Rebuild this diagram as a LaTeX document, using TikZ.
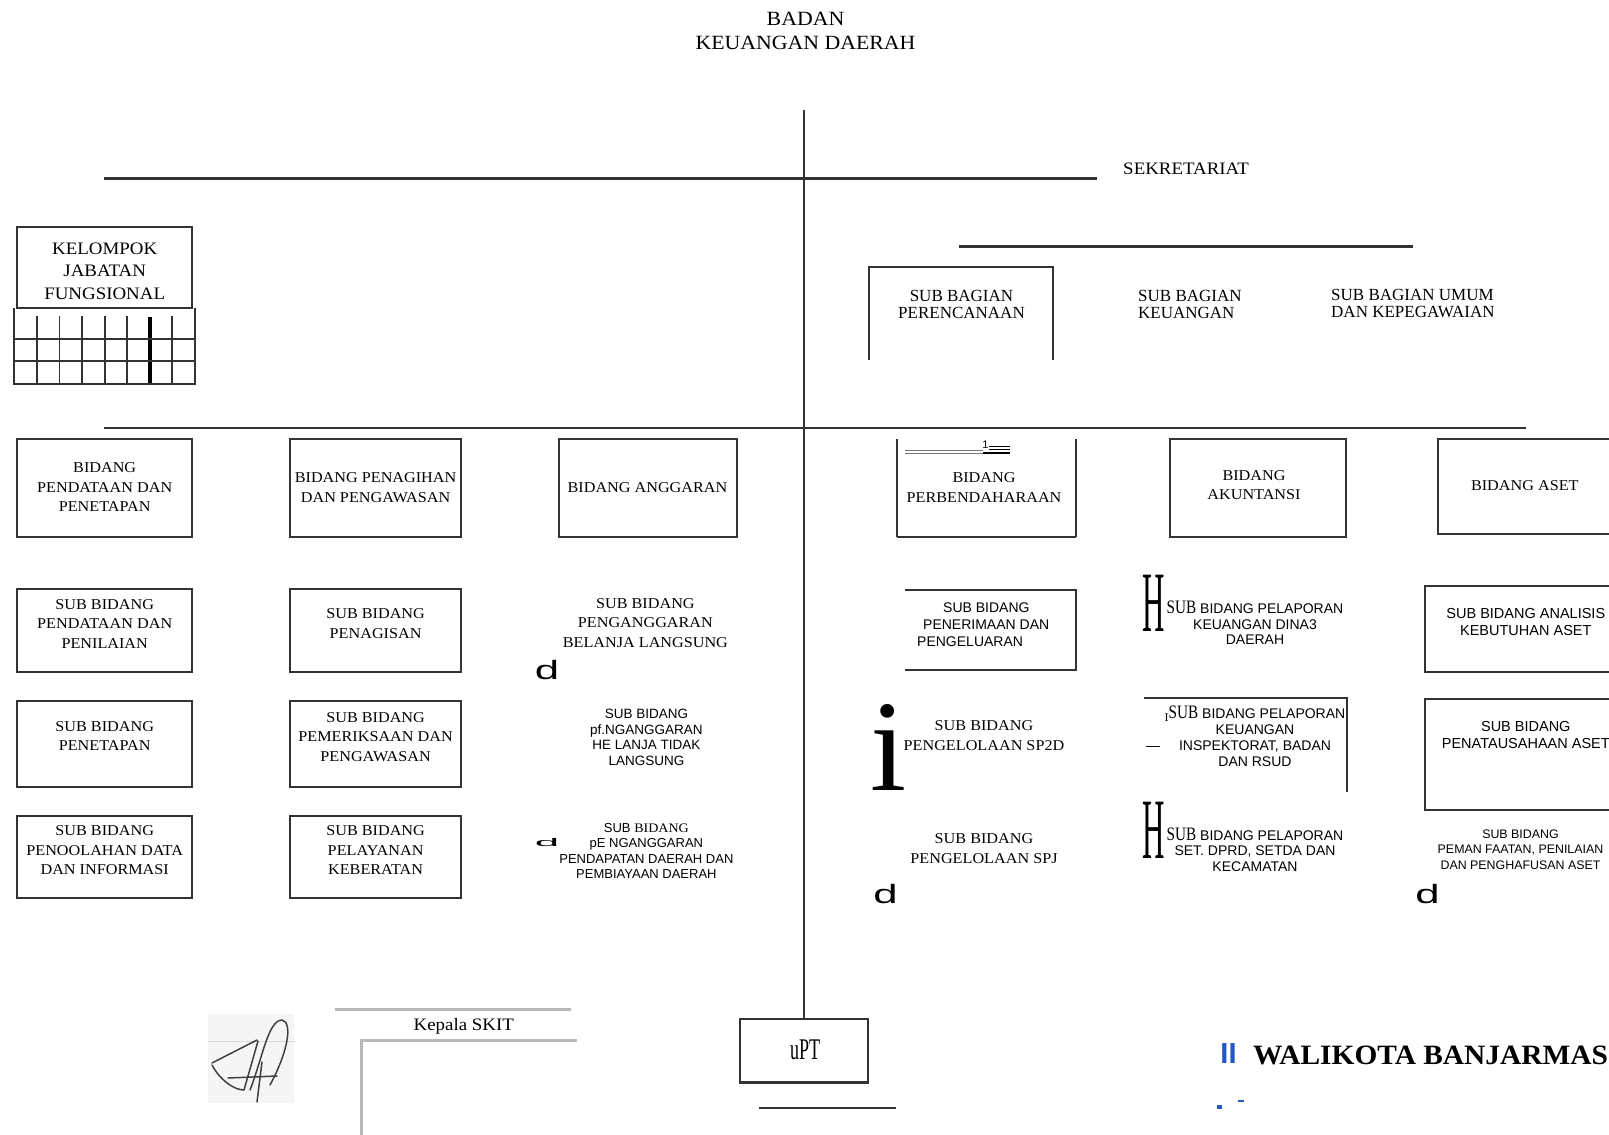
\documentclass[tikz,border=0pt]{standalone}
\usepackage{fontspec}
\usepackage{graphicx}
\setmainfont{Liberation Serif}
\newfontfamily\wideserif[FakeStretch=1.08]{Liberation Serif}
\newfontfamily\condserif[FakeStretch=0.8]{Liberation Serif}
\newfontfamily\arialfont{Liberation Sans}
\newfontfamily\walfont[FakeStretch=1.05]{Liberation Serif}
\newcommand\fBox{\wideserif\fontsize{15}{19.5}\selectfont}
\newcommand\fSans{\arialfont\fontsize{14}{15.8}\selectfont}
\newcommand\fSubw{\condserif\fontsize{19}{19}\selectfont}
\newcommand\fBag{\rmfamily\fontsize{17}{17.5}\selectfont}
\definecolor{lnc}{gray}{0.2}
\definecolor{blu}{RGB}{34,87,196}
\tikzset{
  ln/.style={draw=lnc, line width=2.1pt},
  box/.style={draw=lnc, line width=2.1pt, inner sep=0pt},
  openbox/.style={inner sep=0pt},
  txt/.style={align=center, inner sep=0pt, font=\fBox},
  stxt/.style={align=center, inner sep=0pt, font=\fSans},
  gtxt/.style={align=center, inner sep=0pt, font=\fBag},
  glyph/.style={inner sep=0pt},
  grayln/.style={draw=black!28, line width=2.6pt},
  gridln/.style={draw=lnc, line width=1.9pt},
}
\begin{document}
\begin{tikzpicture}[x=1pt,y=-1pt]
\fill[white] (0,0) rectangle (1609,1135);
\useasboundingbox (0,0) rectangle (1609,1135);

% ---------- title ----------
\node[txt, font=\wideserif\fontsize{20.2}{24.5}\selectfont] (title) at (805.5,30.8) {BADAN\\KEUANGAN DAERAH};

% ---------- UPT and trunk ----------
\node[box, minimum width=128.2pt, minimum height=63.5pt] (upt) at (803.9,1050.75) {};
\node[glyph] (uptt) at (805,1050) {\scalebox{0.6}[1]{\fontsize{30}{30}\selectfont uPT}};
\coordinate (trunktop) at (803.9,109.8);
\draw[ln] (trunktop) -- (upt.north);
\coordinate (uptlA) at (759.3,1108.2);
\coordinate (uptlB) at (895.8,1108.2);
\draw[ln, line width=2.4pt] (uptlA) -- (uptlB);

% ---------- sekretariat ----------
\coordinate (secL) at (103.6,178.5);
\coordinate (secR) at (1097,178.5);
\draw[ln] (secL) -- (secR);
\node[txt, font=\wideserif\fontsize{17.5}{20}\selectfont] (sek) at (1186,168.3) {SEKRETARIAT};
\coordinate (subL) at (959.4,246.3);
\coordinate (subR) at (1413,246.3);
\draw[ln, line width=2.6pt] (subL) -- (subR);

\node[openbox, minimum width=183.8pt, minimum height=93.4pt] (perenc) at (960.9,313.5) {};
\draw[ln] (perenc.south west) -- (perenc.north west) -- (perenc.north east) -- (perenc.south east);
\node[gtxt] (perenct) at (961.5,304.7) {SUB BAGIAN\\PERENCANAAN};
\node[gtxt, align=left, anchor=west] (keu) at (1138,304.7) {SUB BAGIAN\\KEUANGAN};
\node[gtxt, align=left, anchor=west] (umum) at (1331,303.7) {SUB BAGIAN UMUM\\DAN KEPEGAWAIAN};

% ---------- kelompok jabatan fungsional ----------
\node[box, minimum width=174.5pt, minimum height=81pt] (kjf) at (104.65,267.3) {};
\node[txt, font=\wideserif\fontsize{17.5}{22.6}\selectfont] (kjft) at (104.7,270.9) {KELOMPOK\\JABATAN\\FUNGSIONAL};
\foreach \gx in {14.4,195} \draw[gridln] (\gx,307.8) -- (\gx,384.5);
\foreach \gx in {36.9,59.5,82.1,104.7,127.2,172.4} \draw[gridln] (\gx,316) -- (\gx,384.5);
\draw[draw=black, line width=3.6pt] (149.8,317) -- (149.8,384.5);
\foreach \gy in {338.6,361.2,383.8} \draw[gridln] (14.4,\gy) -- (195,\gy);

% ---------- bidang line ----------
\coordinate (midL) at (103.6,427.9);
\coordinate (midR) at (1525.8,427.9);
\draw[ln] (midL) -- (midR);

% ---------- row 1 ----------
\node[box, minimum width=174.5pt, minimum height=97.5pt] (b11) at (104.65,488) {};
\node[txt] (b11t) at (104.7,487.4) {BIDANG\\PENDATAAN DAN\\PENETAPAN};
\node[box, minimum width=170.3pt, minimum height=97.5pt] (b12) at (375.55,488) {};
\node[txt] (b12t) at (375.6,487.4) {BIDANG PENAGIHAN\\DAN PENGAWASAN};
\node[box, minimum width=177.5pt, minimum height=97.5pt] (b13) at (647.95,488) {};
\node[txt] (b13t) at (647.5,487.4) {BIDANG ANGGARAN};
\node[openbox, minimum width=178.6pt, minimum height=97.5pt] (b14) at (986.1,488) {};
\draw[ln] (b14.north west) -- (b14.south west);
\draw[ln] (b14.north east) -- (b14.south east);
\draw[ln, line width=2.8pt] (b14.south west) -- (b14.south east);
\node[txt] (b14t) at (984,487.4) {BIDANG\\PERBENDAHARAAN};
\draw[draw=black!55, line width=1pt] (905,450.5) -- (983,450.5);
\draw[draw=black!55, line width=1pt] (905,453.5) -- (983,453.5);
\node[glyph, font=\arialfont\fontsize{11}{11}\selectfont] (one) at (985.5,445) {1};
\draw[line width=1pt] (989,446.5) -- (1010,446.5);
\draw[line width=1pt] (989,449.5) -- (1010,449.5);
\draw[line width=2.6pt] (983,453) -- (1010,453);
\node[box, minimum width=176.4pt, minimum height=97.5pt] (b15) at (1258,488) {};
\node[txt] (b15t) at (1254,485.3) {BIDANG\\AKUNTANSI};
\node[box, minimum width=174.4pt, minimum height=94.4pt] (b16) at (1524.8,486.4) {};
\node[txt] (b16t) at (1524.8,485.3) {BIDANG ASET};

% ---------- row 2 ----------
\node[box, minimum width=174.5pt, minimum height=83.1pt] (b21) at (104.65,630.55) {};
\node[txt] (b21t) at (104.7,623.9) {SUB BIDANG\\PENDATAAN DAN\\PENILAIAN};
\node[box, minimum width=170.3pt, minimum height=83.1pt] (b22) at (375.55,630.55) {};
\node[txt] (b22t) at (375.6,623.4) {SUB BIDANG\\PENAGISAN};
\node[txt] (t23) at (645.4,622.8) {SUB BIDANG\\PENGANGGARAN\\BELANJA LANGSUNG};
\node[glyph] (d1) at (547,670.5) {\scalebox{1.65}[1]{\arialfont\fontsize{26.5}{26.5}\selectfont d}};
\node[openbox, minimum width=170.4pt, minimum height=80pt] (b24) at (990.2,630) {};
\draw[ln] (b24.north west) -- (b24.north east) -- (b24.south east) -- (b24.south west);
\node[stxt, align=left, anchor=west, font=\arialfont\fontsize{14}{17}\selectfont] (b24t) at (917,625) {\hspace*{26pt}SUB BIDANG\\\hspace*{6pt}PENERIMAAN DAN\\PENGELUARAN};
\node[glyph] (h1) at (1153.5,603) {\scalebox{0.36}[1]{\fontsize{86}{86}\selectfont H}};
\node[stxt, font=\arialfont\fontsize{14}{15.4}\selectfont] (t25) at (1255,622.8) {{\fSubw SUB} BIDANG PELAPORAN\\KEUANGAN DINA3\\DAERAH};
\node[box, minimum width=201pt, minimum height=86.2pt] (b26) at (1525.8,629) {};
\node[stxt, font=\arialfont\fontsize{14.5}{16.5}\selectfont] (b26t) at (1525.8,621.8) {SUB BIDANG ANALISIS\\KEBUTUHAN ASET};

% ---------- row 3 ----------
\node[box, minimum width=174.5pt, minimum height=86.2pt] (b31) at (104.65,743.9) {};
\node[txt] (b31t) at (104.7,736.2) {SUB BIDANG\\PENETAPAN};
\node[box, minimum width=170.3pt, minimum height=86.2pt] (b32) at (375.55,743.9) {};
\node[txt] (b32t) at (375.6,736.7) {SUB BIDANG\\PEMERIKSAAN DAN\\PENGAWASAN};
\node[stxt, font=\arialfont\fontsize{13.5}{15.4}\selectfont] (t33) at (646.4,737.3) {SUB BIDANG\\pf.NGANGGARAN\\HE LANJA TIDAK\\LANGSUNG};
\node[glyph, font=\rmfamily\fontsize{130}{130}\selectfont] (bigi) at (888.6,747) {i};
\node[txt] (t34) at (984,735.7) {SUB BIDANG\\PENGELOLAAN SP2D};
\coordinate (inA) at (1144,697.7);
\coordinate (inB) at (1347,697.7);
\coordinate (inC) at (1347,791.7);
\draw[ln] (inA) -- (inB) -- (inC);
\node[glyph, font=\fSans] (dash) at (1153,748) {—};
\node[stxt, font=\arialfont\fontsize{14}{16.1}\selectfont] (t35) at (1255,736) {\raisebox{-3pt}{\rmfamily\fontsize{12}{12}\selectfont I}{\fSubw SUB} BIDANG PELAPORAN\\KEUANGAN\\INSPEKTORAT, BADAN\\DAN RSUD};
\node[box, minimum width=201pt, minimum height=110.8pt] (b36) at (1525.8,754.2) {};
\node[stxt, font=\arialfont\fontsize{14.5}{16.5}\selectfont] (b36t) at (1525.8,735.2) {SUB BIDANG\\PENATAUSAHAAN ASET};

% ---------- row 4 ----------
\node[box, minimum width=174.5pt, minimum height=82pt] (b41) at (104.65,856.8) {};
\node[txt] (b41t) at (104.7,850.2) {SUB BIDANG\\PENOOLAHAN DATA\\DAN INFORMASI};
\node[box, minimum width=170.3pt, minimum height=82pt] (b42) at (375.55,856.8) {};
\node[txt] (b42t) at (375.6,850.5) {SUB BIDANG\\PELAYANAN\\KEBERATAN};
\node[glyph] (d2) at (547,843) {\scalebox{1.65}[0.42]{\arialfont\fontsize{26.5}{26.5}\selectfont d}};
\node[stxt, font=\arialfont\fontsize{13}{15.4}\selectfont] (t43) at (646.4,851) {SUB {\wideserif\fontsize{13}{13}\selectfont BIDANG}\\pE NGANGGARAN\\PENDAPATAN DAERAH DAN\\PEMBIAYAAN DAERAH};
\node[txt] (t44) at (984,848.6) {SUB BIDANG\\PENGELOLAAN SPJ};
\node[glyph] (d3) at (885.5,894) {\scalebox{1.65}[1]{\arialfont\fontsize{26.5}{26.5}\selectfont d}};
\node[glyph] (h2) at (1153.5,830) {\scalebox{0.36}[1]{\fontsize{86}{86}\selectfont H}};
\node[stxt, font=\arialfont\fontsize{14}{15.8}\selectfont] (t45) at (1255,849.6) {{\fSubw SUB} BIDANG PELAPORAN\\SET. DPRD, SETDA DAN\\KECAMATAN};
\node[stxt, font=\arialfont\fontsize{12.4}{15.4}\selectfont] (t46) at (1520.5,849.6) {SUB BIDANG\\PEMAN FAATAN, PENILAIAN\\DAN PENGHAFUSAN ASET};
\node[glyph] (d4) at (1427.5,894.5) {\scalebox{1.65}[1]{\arialfont\fontsize{26.5}{26.5}\selectfont d}};

% ---------- signature ----------
\node[openbox, fill=black!4, minimum width=86pt, minimum height=89pt] (sig) at (251.4,1058.4) {};
\draw[black!15, line width=1pt] (sig.west |- 0,1041) -- (sig.east |- 0,1041);
\draw[black!75, line width=1.5pt, line cap=round, line join=round]
  (212,1063) -- (257,1040)
  (212,1065) .. controls (220,1080) and (234,1090) .. (244,1090)
  (244,1090) -- (258,1041)
  (228,1078) -- (277,1076)
  (250,1090) .. controls (262,1060) and (268,1020) .. (282,1020) .. controls (293,1022) and (288,1052) .. (270,1085)
  (262,1062) -- (257,1102);

% ---------- kepala skit ----------
\coordinate (kA) at (334.5,1009.7);
\coordinate (kB) at (570.5,1009.7);
\draw[grayln] (kA) -- (kB);
\node[txt, font=\wideserif\fontsize{17.5}{20}\selectfont] (kep) at (463.8,1026) {Kepala SKIT};
\coordinate (kC) at (361.2,1140);
\coordinate (kD) at (361.2,1040.5);
\coordinate (kE) at (576.7,1040.5);
\draw[grayln] (kC) -- (kD) -- (kE);

% ---------- walikota ----------
\node[glyph, text=blu, font=\arialfont\bfseries\fontsize{29}{29}\selectfont] (ii) at (1228.5,1053.5) {II};
\node[glyph, anchor=base west, font=\walfont\bfseries\fontsize{28}{28}\selectfont] (wal) at (1253,1064) {WALIKOTA BANJARMAS};
\fill[blu] (1217,1105) rectangle (1222,1109);
\fill[blu] (1238,1099.5) rectangle (1244,1102);
\end{tikzpicture}
\end{document}
